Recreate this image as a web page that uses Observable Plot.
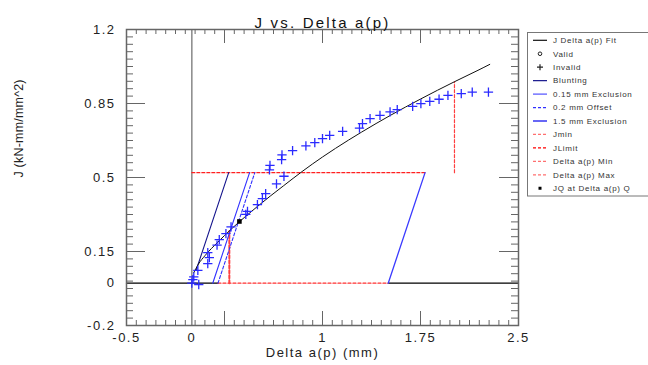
<!DOCTYPE html>
<html><head><meta charset="utf-8">
<script src="https://cdn.jsdelivr.net/npm/d3@7"></script>
<script src="https://cdn.jsdelivr.net/npm/@observablehq/plot@0.6"></script>
<style>
body{margin:0;background:#fff;}
#wrap{position:relative;width:648px;height:365px;font-family:"Liberation Sans",Arial,sans-serif;}
#legend{position:absolute;left:527px;top:32px;}
</style></head><body><div id="wrap"></div>
<script>
// ---- data ----
const pointsDa = [0, 0.008, 0.015, 0.053, 0.046, 0.122, 0.134, 0.122, 0.193, 0.21, 0.261, 0.3, 0.413, 0.426, 0.502, 0.54, 0.565, 0.648, 0.705, 0.594, 0.598, 0.687, 0.69, 0.771, 0.873, 0.941, 1.0, 1.055, 1.154, 1.283, 1.306, 1.364, 1.44, 1.517, 1.572, 1.69, 1.753, 1.821, 1.892, 1.96, 2.062, 2.146, 2.27];
const pointsJ  = [0, 0.017, 0.03, -0.006, 0.061, 0.093, 0.121, 0.145, 0.18, 0.206, 0.235, 0.266, 0.326, 0.34, 0.372, 0.40, 0.424, 0.47, 0.506, 0.536, 0.557, 0.585, 0.607, 0.627, 0.65, 0.665, 0.684, 0.699, 0.718, 0.734, 0.755, 0.778, 0.794, 0.81, 0.821, 0.836, 0.849, 0.86, 0.87, 0.888, 0.897, 0.904, 0.904];
const fitDa = [0.015, 0.05, 0.1, 0.2, 0.3, 0.4, 0.5, 0.6, 0.7, 0.85, 1.0, 1.1, 1.3, 1.52, 1.75, 2.01, 2.19, 2.28];
const fitJ  = [0.05, 0.09, 0.13, 0.195, 0.255, 0.31, 0.362, 0.412, 0.46, 0.531, 0.597, 0.638, 0.715, 0.794, 0.871, 0.953, 1.007, 1.035];
const bluntingLine = [[0.035, 0.065], [0.282, 0.523]];
const excl015Line = [[0.16, 0], [0.442, 0.523]];
const offset02Line = [[0.2, 0], [0.482, 0.523]];
const excl15Line = [[1.503, 0], [1.785, 0.523]];
const jminLine = [[0.2, 0], [1.503, 0]];
const jlimitLine = [[0, 0.523], [1.785, 0.523]];
const daMinLine = [[0.287, 0], [0.287, 0.246]];
const daMaxLine = [[2.01, 0.523], [2.01, 0.953]];
const zeroLeft = [[-0.5, 0], [0.2, 0]];
const zeroRight = [[1.503, 0], [2.5, 0]];
const jq = [[0.364, 0.292]];
const xTickLabels = [-0.5, 0, 1, 1.75, 2.5];
const yTickLabels = [1.2, 0.85, 0.5, 0.15, 0, -0.2];
const xMajor = [-0.5, 0.25, 1, 1.75, 2.5];
const yMajor = [-0.2, 0.15, 0.5, 0.85, 1.2];
const legendLabels = ["J Delta a(p) Fit", "Valid", "Invalid", "Blunting", "0.15 mm Exclusion", "0.2 mm Offset", "1.5 mm Exclusion", "Jmin", "JLimit", "Delta a(p) Min", "Delta a(p) Max", "JQ at Delta a(p) Q"];

// ---- layout ----
const W = 648, H = 365, mL = 126, mT = 29, mR = 130, mB = 40;
const iW = W - mL - mR, iH = H - mT - mB;
const xMinor = d3.range(41).map(i => -0.5 + i * 0.075);
const yMinor = d3.range(41).map(i => -0.2 + i * 0.035);
const pts = pointsDa.map((x, i) => ({x, y: pointsJ[i]}));
const fit = fitDa.map((x, i) => ({x, y: fitJ[i]}));
const TC = "#666";
const txt = "#222";
const seg = (data, o) => Plot.line(data, {x: d => d[0], y: d => d[1], ...o});

const chart = Plot.plot({
  width: W, height: H,
  marginLeft: mL, marginRight: mR, marginTop: mT, marginBottom: mB,
  x: {domain: [-0.5, 2.5], axis: null},
  y: {domain: [-0.2, 1.2], axis: null},
  style: {fontFamily: '"Liberation Sans", Arial, sans-serif', background: "#fff"},
  marks: [
    Plot.ruleX([0], {stroke: "#888", strokeWidth: 1.5}),
    seg(zeroLeft, {stroke: "#000", strokeWidth: 1.2}),
    seg(zeroRight, {stroke: "#000", strokeWidth: 1.2}),
    seg(jminLine, {stroke: "#ff3030", strokeDasharray: "3,2", strokeWidth: 1.2}),
    seg(jlimitLine, {stroke: "#ff2020", strokeDasharray: "3,2", strokeWidth: 1.2}),
    seg(daMinLine, {stroke: "#ff4040", strokeDasharray: "3,2", strokeWidth: 2}),
    seg(daMaxLine, {stroke: "#ff4040", strokeDasharray: "3,2", strokeWidth: 1.2}),
    seg(bluntingLine, {stroke: "#14148c", strokeWidth: 1.1}),
    seg(excl015Line, {stroke: "#3030ff", strokeWidth: 1.1}),
    seg(offset02Line, {stroke: "#3030ff", strokeDasharray: "3,2", strokeWidth: 1.1}),
    seg(excl15Line, {stroke: "#3a3aff", strokeWidth: 1.3}),
    Plot.line(fit, {x: "x", y: "y", stroke: "#111", strokeWidth: 1, curve: "monotone-x"}),
    Plot.dot(pts, {x: "x", y: "y", symbol: "plus", stroke: "#2a2aff", r: 3.1, strokeWidth: 1.3}),
    Plot.dot(jq, {x: d => d[0], y: d => d[1], symbol: "square", fill: "#000", r: 2.6}),
    // frame & ticks
    Plot.frame({stroke: TC, strokeWidth: 1.5}),
    Plot.tickX(xMinor, {x: d => d, insetTop: iH - 5, stroke: TC}),
    Plot.tickX(xMinor, {x: d => d, insetBottom: iH - 5, stroke: TC}),
    Plot.tickX(xMajor, {x: d => d, insetTop: iH - 14, stroke: TC}),
    Plot.tickX(xMajor, {x: d => d, insetBottom: iH - 14, stroke: TC}),
    Plot.tickY(yMinor, {y: d => d, insetRight: iW - 7, stroke: TC}),
    Plot.tickY(yMinor, {y: d => d, insetLeft: iW - 7, stroke: TC}),
    Plot.tickY(yMajor, {y: d => d, insetRight: iW - 19, stroke: TC}),
    Plot.tickY(yMajor, {y: d => d, insetLeft: iW - 19, stroke: TC}),
    // tick labels
    Plot.text(xTickLabels, {x: d => d, text: d => String(d), frameAnchor: "bottom", dy: 16, fontSize: 13, fill: txt}),
    Plot.text(yTickLabels, {y: d => d, text: d => String(d), frameAnchor: "left", dx: -11, textAnchor: "end", fontSize: 13, fill: txt}),
    // titles
    Plot.text(["J vs. Delta a(p)"], {frameAnchor: "top", dy: -12, fontSize: 15, fill: "#111"}),
    Plot.text(["Delta a(p) (mm)"], {frameAnchor: "bottom", dy: 31, fontSize: 13, fill: txt}),
    Plot.text(["J (kN-mm/mm^2)"], {frameAnchor: "left", dx: -108, rotate: -90, fontSize: 12.5, fill: txt})
  ]
});

d3.select(chart).selectAll("text").each(function() {
  const t = this.textContent;
  let ls = "1.5px";
  if (t === "J vs. Delta a(p)") ls = "2.2px";
  else if (t === "J (kN-mm/mm^2)") ls = "0.2px";
  else if (t === "Delta a(p) (mm)") ls = "1.5px";
  d3.select(this).style("letter-spacing", ls);
});

const wrap = document.getElementById("wrap");
wrap.appendChild(chart);

// ---- legend ----
const lg = d3.select(wrap).append("svg").attr("id", "legend").attr("width", 121).attr("height", 165);
lg.append("rect").attr("x", 0.5).attr("y", 0.5).attr("width", 124).attr("height", 163.5).attr("fill", "#fff").attr("stroke", "#777");
const styles = [
  {type: "line", stroke: "#111"},
  {type: "valid"},
  {type: "plus"},
  {type: "line", stroke: "#14148c"},
  {type: "line", stroke: "#5050ff"},
  {type: "line", stroke: "#3030ff", dash: "3,2"},
  {type: "line", stroke: "#0000ee"},
  {type: "line", stroke: "#ff7070", dash: "3,2"},
  {type: "line", stroke: "#ff0000", dash: "3,2"},
  {type: "line", stroke: "#ff7070", dash: "3,2"},
  {type: "line", stroke: "#ff7070", dash: "3,2"},
  {type: "square"}
];
legendLabels.forEach((label, i) => {
  const y = 8.3 + i * 13.45;
  const s = styles[i];
  if (s.type === "line") {
    lg.append("line").attr("x1", 6).attr("x2", 20).attr("y1", y).attr("y2", y)
      .attr("stroke", s.stroke).attr("stroke-width", 1.2).attr("stroke-dasharray", s.dash || null);
  } else if (s.type === "valid") {
    lg.append("circle").attr("cx", 13).attr("cy", y).attr("r", 1.8).attr("fill", "none").attr("stroke", "#222").attr("stroke-width", 1);
  } else if (s.type === "plus") {
    lg.append("path").attr("d", `M10,${y}H16M13,${y - 3}V${y + 3}`).attr("stroke", "#222").attr("stroke-width", 1.2);
  } else {
    lg.append("rect").attr("x", 11.5).attr("y", y - 1.5).attr("width", 3).attr("height", 3).attr("fill", "#000");
  }
  lg.append("text").attr("x", 26).attr("y", y).attr("dy", "0.35em").text(label)
    .attr("font-size", 8).attr("fill", "#333").style("letter-spacing", "0.7px")
    .attr("font-family", '"Liberation Sans", Arial, sans-serif');
});
</script>
</body></html>
